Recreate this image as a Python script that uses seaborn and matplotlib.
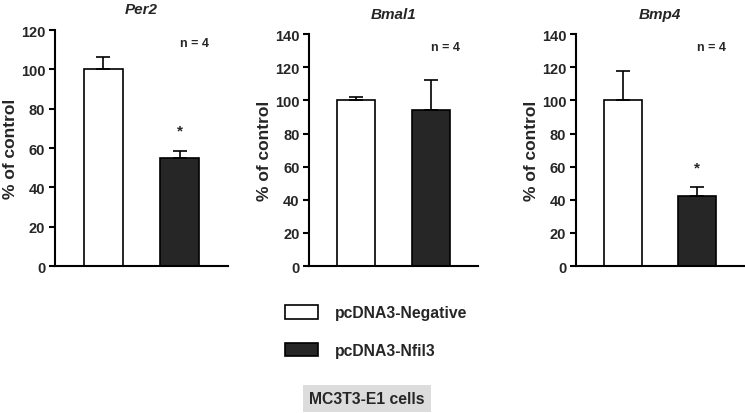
import matplotlib
matplotlib.use('Agg')
import matplotlib.pyplot as plt
from matplotlib.patches import Patch
import pandas as pd
import seaborn as sns

# Data
genes = ['Per2', 'Bmal1', 'Bmp4']
groups = ['pcDNA3-Negative', 'pcDNA3-Nfil3']
per2_mean = [100, 55]
per2_sem = [6.5, 3.3]
bmal1_mean = [100, 94]
bmal1_sem = [2.0, 18.5]
bmp4_mean = [100, 42]
bmp4_sem = [17.5, 6.0]
y_max = [120, 140, 140]
signif = [[False, True], [False, False], [False, True]]

means = [per2_mean, bmal1_mean, bmp4_mean]
sems = [per2_sem, bmal1_sem, bmp4_sem]
colors = ['white', '#262626']

sns.set_theme(style='white')
plt.rcParams['font.family'] = ['Liberation Sans', 'DejaVu Sans']
plt.rcParams['font.weight'] = 'bold'

fig = plt.figure(figsize=(7.45, 4.14), dpi=100)

# axes rectangles [left, bottom, width, height] in figure fractions
rects = [
    [0.0738, 0.355, 0.232, 0.570],
    [0.415, 0.355, 0.227, 0.560],
    [0.773, 0.355, 0.226, 0.560],
]

for i, gene in enumerate(genes):
    ax = fig.add_axes(rects[i])
    df = pd.DataFrame({'group': groups, 'value': means[i]})
    sns.barplot(data=df, x='group', y='value', hue='group', palette=colors,
                edgecolor='black', linewidth=1.2, width=0.51, errorbar=None,
                legend=False, ax=ax)
    ax.errorbar(range(len(groups)), means[i],
                yerr=[[0] * len(groups), sems[i]],
                fmt='none', ecolor='black', elinewidth=1.2,
                capsize=5, capthick=1.2, zorder=1)
    for j, s in enumerate(signif[i]):
        if s:
            ax.text(j, means[i][j] + sems[i][j] + 7, '*', ha='center',
                    va='bottom', fontsize=11, fontweight='bold')
    ax.set_xlim(-0.63, 1.63)
    ax.set_ylim(0, y_max[i])
    ax.set_yticks(range(0, y_max[i] + 1, 20))
    ax.set_xticks([])
    ax.set_xlabel('')
    ax.set_ylabel('% of control', fontsize=12.5, fontweight='bold', labelpad=2)
    ax.set_title(gene, fontsize=11, fontweight='bold', style='italic', pad=12)
    ax.tick_params(axis='y', direction='out', length=4, width=1.5,
                   labelsize=10.5, left=True, pad=3, color='black')
    for lab in ax.get_yticklabels():
        lab.set_fontweight('bold')
    sns.despine(ax=ax)
    ax.spines['left'].set_linewidth(1.5)
    ax.spines['bottom'].set_linewidth(1.5)
    ax.spines['left'].set_color('black')
    ax.spines['bottom'].set_color('black')
    ax.text(0.89, 0.97, 'n = 4', transform=ax.transAxes, ha='right',
            va='top', fontsize=9, fontweight='bold')

handles = [Patch(facecolor=c, edgecolor='black', linewidth=1.2) for c in colors]
fig.legend(handles, groups, loc='upper left', bbox_to_anchor=(0.363, 0.295),
           frameon=False, handlelength=2.1, handleheight=0.95,
           handletextpad=1.1, labelspacing=1.45,
           prop={'weight': 'bold', 'size': 11.3})

fig.text(0.492, 0.035, 'MC3T3-E1 cells', ha='center', va='center',
         fontsize=11.3, fontweight='bold',
         bbox=dict(boxstyle='square,pad=0.4', facecolor='#dcdcdc',
                   edgecolor='none'))

fig.savefig('out.png', dpi=100)
